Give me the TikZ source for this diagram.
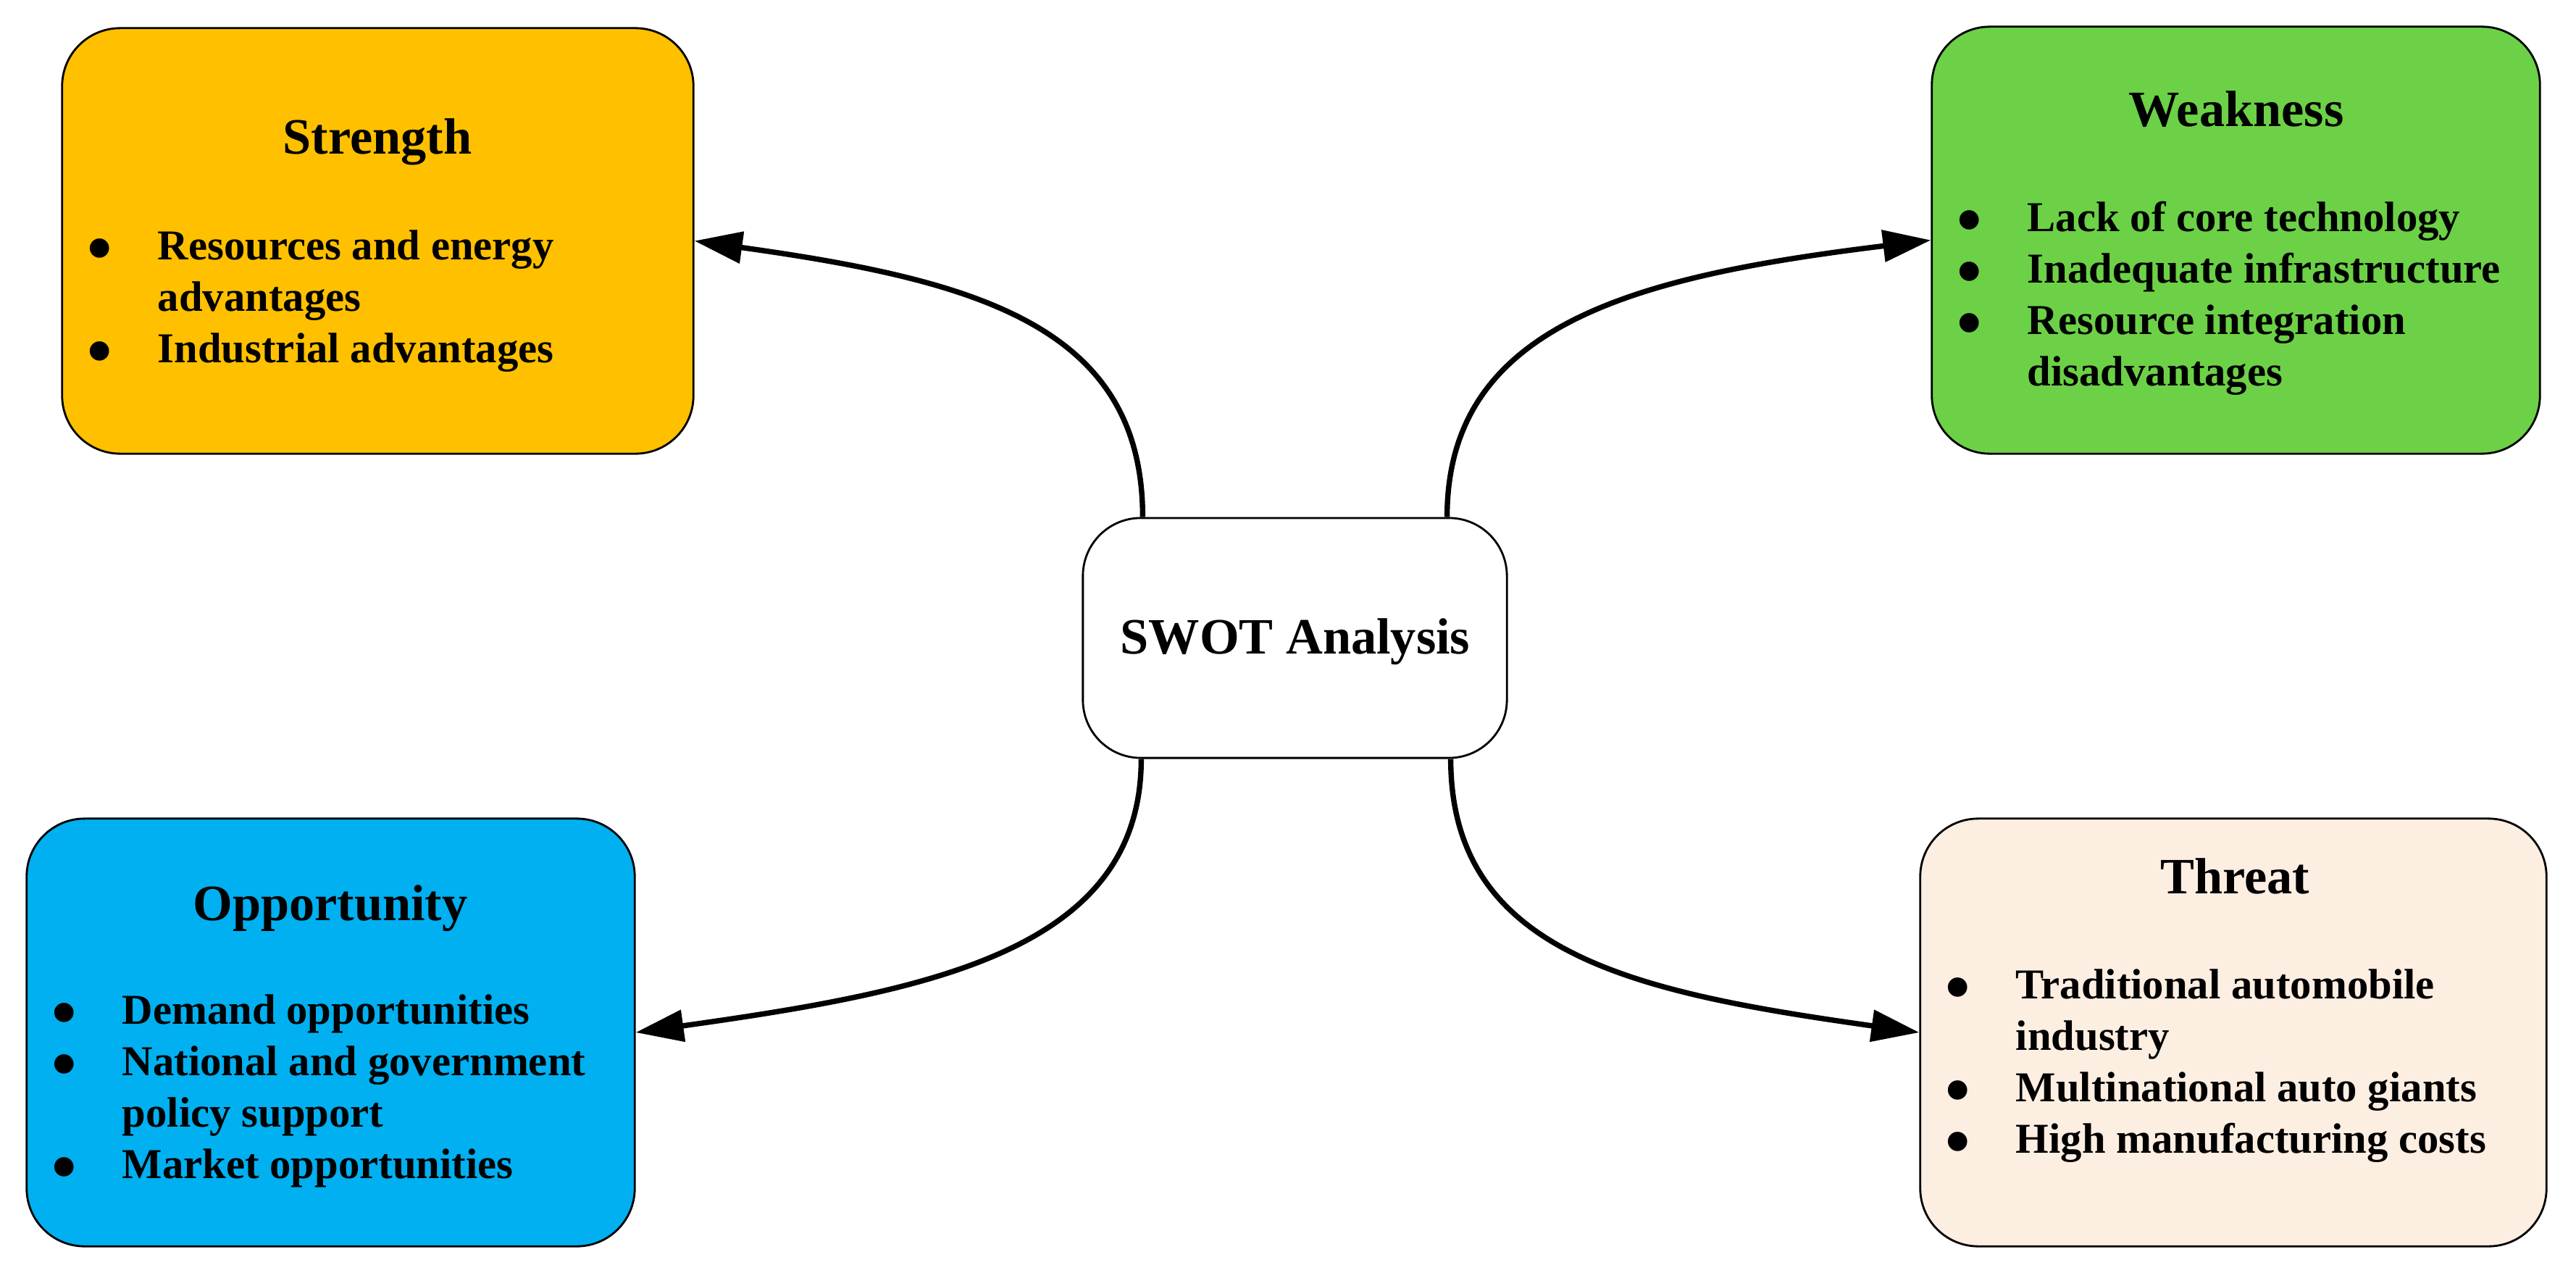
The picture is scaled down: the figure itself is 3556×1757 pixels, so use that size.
\documentclass[tikz,border=0pt]{standalone}
\usepackage{fontspec}
\setmainfont{Liberation Serif}
\usetikzlibrary{arrows.meta}
\definecolor{cS}{HTML}{FFC000}
\definecolor{cW}{HTML}{6CD146}
\definecolor{cO}{HTML}{00B0F0}
\definecolor{cT}{HTML}{FDEEE2}
\newcommand\bul{\makebox[0.97cm][l]{\raisebox{-4.9pt}[0pt][0pt]{\fontsize{28pt}{28pt}\selectfont\textbullet}}}
\newcommand\ind{\hspace*{0.97cm}}
\begin{document}
\begin{tikzpicture}[x=0.01cm,y=-0.01cm,
  box/.style={draw=black, line width=0.8pt, rounded corners=0.8cm, inner sep=0pt},
  ttl/.style={font=\bfseries\fontsize{20pt}{24pt}\selectfont, inner sep=0pt, anchor=base},
  lst/.style={font=\bfseries\fontsize{16.7pt}{20.2pt}\selectfont, inner sep=0pt, anchor=base west},
  conn/.style={line width=2.1pt, -{Triangle[length=0.66cm,width=0.43cm]}},
]
\useasboundingbox (0,0) rectangle (3556,1757);

% boxes
\node[box, fill=cS, minimum width=8.71cm, minimum height=5.87cm] (sbox) at (521.5,332.5) {};
\node[box, fill=cW, minimum width=8.39cm, minimum height=5.89cm] (wbox) at (3086.5,331.5) {};
\node[box, fill=white, minimum width=5.85cm, minimum height=3.31cm] (swot) at (1787.5,880.5) {};
\node[box, fill=cO, minimum width=8.39cm, minimum height=5.90cm] (obox) at (456.5,1425) {};
\node[box, fill=cT, minimum width=8.64cm, minimum height=5.90cm] (tbox) at (3083,1425) {};

% titles
\node[ttl] (stitle) at (521,212) {Strength};
\node[ttl] (wtitle) at (3087,174) {Weakness};
\node[ttl] (swotlbl) at (1788,902) {SWOT Analysis};
\node[ttl] (otitle) at (456,1270) {Opportunity};
\node[ttl] (ttitle) at (3085,1233) {Threat};

% lists
\node[lst] (slist) at (120,358) {\begin{tabular}[t]{@{}l@{}}\bul Resources and energy\\ \ind advantages\\ \bul Industrial advantages\end{tabular}};
\node[lst] (wlist) at (2701,319) {\begin{tabular}[t]{@{}l@{}}\bul Lack of core technology\\ \bul Inadequate infrastructure\\ \bul Resource integration\\ \ind disadvantages\end{tabular}};
\node[lst] (olist) at (71,1413) {\begin{tabular}[t]{@{}l@{}}\bul Demand opportunities\\ \bul National and government\\ \ind policy support\\ \bul Market opportunities\end{tabular}};
\node[lst] (tlist) at (2685,1378) {\begin{tabular}[t]{@{}l@{}}\bul Traditional automobile\\ \ind industry\\ \bul Multinational auto giants\\ \bul High manufacturing costs\end{tabular}};

% connectors
\draw[conn] ([xshift=-2.1cm]swot.north) .. controls +(0,-265) and +(386,54) .. (sbox.east);
\draw[conn] ([xshift=2.1cm]swot.north) .. controls +(0,-265) and +(-410,50) .. (wbox.west);
\draw[conn] ([xshift=-2.12cm]swot.south) .. controls +(0,265) and +(405,-57) .. (obox.east);
\draw[conn] ([xshift=2.15cm]swot.south) .. controls +(0,270) and +(-390,-55) .. (tbox.west);
\end{tikzpicture}
\end{document}
